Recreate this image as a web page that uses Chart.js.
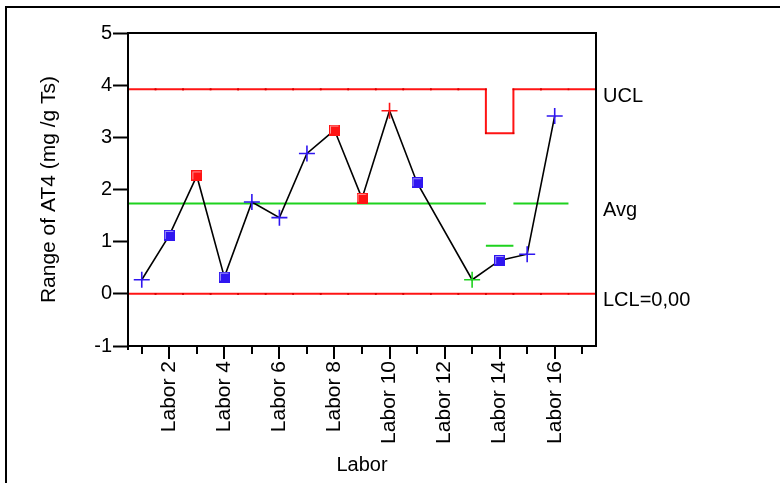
<!DOCTYPE html>
<html>
<head>
<meta charset="utf-8">
<title>Range of AT4</title>
<script src="https://cdn.jsdelivr.net/npm/chart.js@4.4.1/dist/chart.umd.min.js"></script>
<style>
  html, body { margin: 0; padding: 0; background: #fff; }
  #wrap { width: 780px; height: 483px; }
</style>
</head>
<body>
<div id="wrap"><canvas id="rangeChart" width="780" height="483"></canvas></div>
<script>
// labs on the x axis (Labor 12 has no range value)
const labs = ['Labor 1', 'Labor 2', 'Labor 3', 'Labor 4', 'Labor 5', 'Labor 6', 'Labor 7', 'Labor 8',
              'Labor 9', 'Labor 10', 'Labor 11', 'Labor 12', 'Labor 13', 'Labor 14', 'Labor 15', 'Labor 16'];
const ranges = [0.27, 1.12, 2.26, 0.32, 1.76, 1.46, 2.69, 3.14, 1.83, 3.51, 2.13, null, 0.27, 0.64, 0.76, 3.41];
const markerShapes = ['cross', 'square', 'square', 'square', 'cross', 'cross', 'cross', 'square',
                      'square', 'cross', 'square', null, 'cross', 'square', 'cross', 'cross'];
const markerColors = ['blue', 'blue', 'red', 'blue', 'blue', 'blue', 'blue', 'red',
                      'red', 'red', 'blue', null, 'green', 'blue', 'blue', 'blue'];

// control limits per lab
const ucl = [3.92, 3.92, 3.92, 3.92, 3.92, 3.92, 3.92, 3.92, 3.92, 3.92, 3.92, 3.92, 3.92, 3.08, 3.92, 3.92];
const avg = [1.73, 1.73, 1.73, 1.73, 1.73, 1.73, 1.73, 1.73, 1.73, 1.73, 1.73, 1.73, 1.73, 0.92, 1.73, 1.73];
const lcl = [0, 0, 0, 0, 0, 0, 0, 0, 0, 0, 0, 0, 0, 0, 0, 0];

const yMin = -1, yMax = 5;
const xMin = 0.5, xMax = 17.5;

const COLORS = { blue: '#2f16f0', red: '#ff1414', green: '#1ed21e' };
const FONT = "'Liberation Sans', Arial, sans-serif";

// little shaded square used as a point marker
function squareMarker(color) {
  const c = document.createElement('canvas');
  c.width = 11; c.height = 11;
  const g = c.getContext('2d');
  g.fillStyle = color;
  g.fillRect(0, 0, 11, 11);
  g.strokeStyle = 'rgba(255,255,255,0.55)';
  g.lineWidth = 1;
  g.beginPath();
  g.moveTo(1.5, 9); g.lineTo(1.5, 1.5); g.lineTo(9.5, 1.5);
  g.stroke();
  return c;
}
const squares = {
  blue: squareMarker(COLORS.blue),
  red: squareMarker(COLORS.red)
};

// one horizontal piece per lab; joinSteps adds the vertical connectors
function stepPoints(values, joinSteps, extendTo) {
  const pts = [];
  values.forEach((v, i) => {
    const c = i + 1;
    if (i > 0 && v !== values[i - 1] && !joinSteps) pts.push({ x: c - 0.5, y: null });
    pts.push({ x: c - 0.5, y: v }, { x: c + 0.5, y: v });
  });
  if (extendTo) pts.push({ x: extendTo, y: values[values.length - 1] });
  return pts;
}

const frame = {
  id: 'frame',
  beforeDraw(chart) {
    const ctx = chart.ctx;
    ctx.save();
    ctx.fillStyle = '#000';
    ctx.fillRect(5, 6, 2, 477);
    ctx.fillRect(5, 6, 775, 2);
    ctx.restore();
  },
  afterDraw(chart) {
    const { ctx, chartArea: a, scales } = chart;
    ctx.save();
    ctx.strokeStyle = '#000';
    ctx.lineWidth = 2;
    ctx.strokeRect(a.left, a.top, a.right - a.left, a.bottom - a.top);
    // y axis runs a little below the frame
    ctx.beginPath();
    ctx.moveTo(a.left, a.bottom);
    ctx.lineTo(a.left, a.bottom + 4);
    ctx.stroke();

    // x tick marks, longer under the labelled labs
    scales.x.ticks.forEach(t => {
      const px = Math.round(scales.x.getPixelForValue(t.value));
      const len = t.value % 2 === 0 ? 13 : 8;
      ctx.beginPath();
      ctx.moveTo(px, a.bottom);
      ctx.lineTo(px, a.bottom + len);
      ctx.stroke();
    });

    // limit names at the right edge
    ctx.fillStyle = '#000';
    ctx.font = '20px ' + FONT;
    ctx.textAlign = 'left';
    ctx.textBaseline = 'middle';
    const last = labs.length - 1;
    const names = [
      ['UCL', ucl[last]],
      ['Avg', avg[last]],
      ['LCL=' + lcl[last].toFixed(2).replace('.', ','), lcl[last]]
    ];
    names.forEach(([txt, v]) => {
      ctx.fillText(txt, a.right + 7, scales.y.getPixelForValue(v) + 7);
    });
    ctx.restore();
  }
};

new Chart(document.getElementById('rangeChart'), {
  type: 'line',
  data: {
    datasets: [
      {
        label: 'Range',
        data: ranges.map((v, i) => ({ x: i + 1, y: v })),
        borderColor: '#000',
        borderWidth: 1.6,
        spanGaps: true,
        pointStyle: markerShapes.map((s, i) => s === 'square' ? squares[markerColors[i]] : 'cross'),
        pointRadius: 8,
        pointBorderWidth: 1.6,
        pointBorderColor: markerColors.map(c => COLORS[c] || '#000'),
        pointBackgroundColor: markerColors.map(c => COLORS[c] || '#000'),
        order: 0
      },
      {
        label: 'UCL',
        data: stepPoints(ucl, true, xMax),
        borderColor: COLORS.red,
        borderWidth: 2,
        pointRadius: 1.2,
        pointStyle: 'rect',
        pointBorderWidth: 0,
        pointBackgroundColor: '#d80000',
        order: 2
      },
      {
        label: 'Avg',
        data: stepPoints(avg, false),
        borderColor: COLORS.green,
        borderWidth: 2,
        pointRadius: 0,
        spanGaps: false,
        order: 2
      },
      {
        label: 'LCL',
        data: stepPoints(lcl, true, xMax),
        borderColor: COLORS.red,
        borderWidth: 2,
        pointRadius: 1.2,
        pointStyle: 'rect',
        pointBorderWidth: 0,
        pointBackgroundColor: '#d80000',
        order: 2
      }
    ]
  },
  options: {
    responsive: false,
    animation: false,
    events: [],
    layout: { padding: { top: 33, right: 184, left: 0, bottom: 0 } },
    plugins: { legend: { display: false }, tooltip: { enabled: false } },
    scales: {
      x: {
        type: 'linear',
        min: xMin,
        max: xMax,
        afterBuildTicks: axis => {
          axis.ticks = labs.map((l, i) => ({ value: i + 1 })).concat([{ value: labs.length + 1 }]);
        },
        afterFit: axis => { axis.height = 137; },
        border: { display: false },
        grid: { drawOnChartArea: false, drawTicks: false },
        ticks: {
          autoSkip: false,
          minRotation: 90,
          maxRotation: 90,
          padding: 15,
          color: '#000',
          font: { family: FONT, size: 21 },
          callback: v => (v % 2 === 0 && labs[v - 1]) ? labs[v - 1] : ''
        },
        title: {
          display: true,
          text: 'Labor',
          color: '#000',
          font: { family: FONT, size: 20 },
          padding: { top: 0, bottom: 6 }
        }
      },
      y: {
        min: yMin,
        max: yMax,
        afterFit: axis => { axis.width = 128; },
        border: { display: false },
        grid: { drawOnChartArea: false, tickLength: 15, tickWidth: 2, tickColor: '#000' },
        ticks: {
          stepSize: 1,
          padding: 1,
          color: '#000',
          font: { family: FONT, size: 20 }
        },
        title: {
          display: true,
          text: 'Range of AT4 (mg /g Ts)',
          color: '#000',
          font: { family: FONT, size: 21 },
          padding: { top: 37, bottom: 0 }
        }
      }
    }
  },
  plugins: [frame]
});
</script>
</body>
</html>
